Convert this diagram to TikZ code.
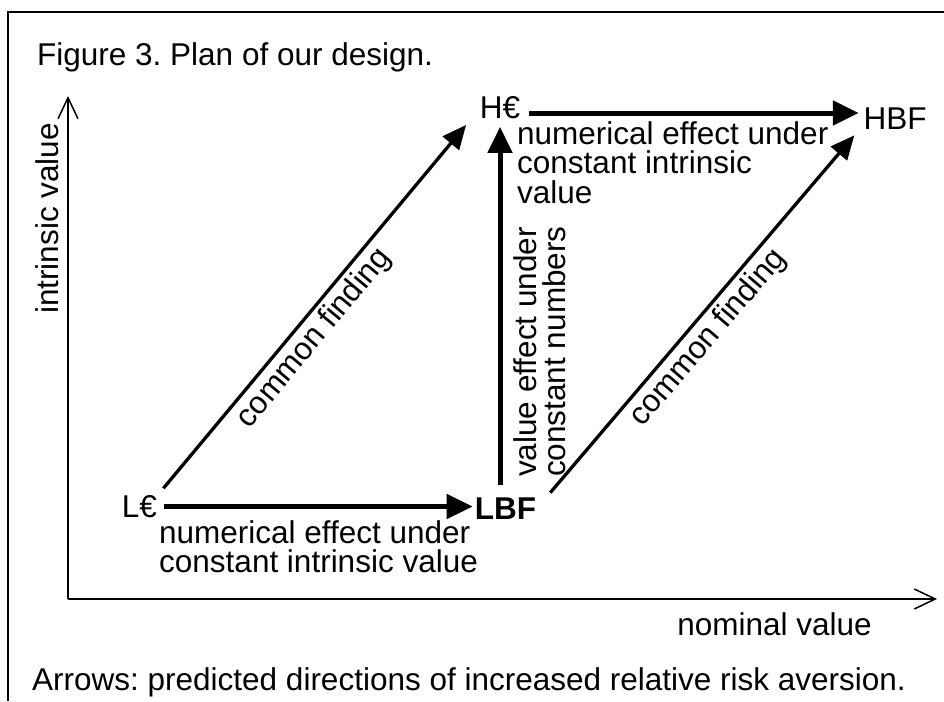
\documentclass[tikz,border=0pt]{standalone}
\usepackage{fontspec}
\setmainfont{Liberation Sans}
\usetikzlibrary{arrows.meta,positioning,calc}
\frenchspacing

\begin{document}
\begin{tikzpicture}[
    x=1pt, y=-1pt,
    font=\fontsize{31.5pt}{29.5pt}\selectfont,
    >=Triangle
  ]

  % Styles for corners, arrows and notes
  \tikzset{
    corner/.style={inner sep=3pt},
    flow/.style={-{Triangle[length=26pt,width=24pt]}, line width=5pt},
    link/.style={-{Triangle[length=24pt,width=21pt]}, line width=3.3pt},
    axis/.style={-{Straight Barb[length=21pt,width=20pt,line width=1.5pt]}, line width=2pt},
    note/.style={align=left, inner sep=0pt}
  }

  % Frame
  \useasboundingbox (0,0) rectangle (944,701);
  \draw[line width=1.5pt] (944,12) -- (8,12) -- (8,701);

  % Axes
  \coordinate (origin) at (68,599);
  \coordinate (ytip)   at (68,96);
  \coordinate (xtip)   at (937,599);
  \draw[axis] (origin) -- (ytip);
  \draw[axis] (origin) -- (xtip);

  % Four cells of the design
  \node (leur) [corner] at (139.5,506.5) {L€};
  \node (lbf)  [corner] at (505.5,509) {\bfseries LBF};
  \node (heur) [corner] at (500,107.5) {H€};
  \node (hbf)  [corner] at (895,119) {HBF};

  % Arrows between cells
  \draw[flow, shorten <=4pt, shorten >=-1pt] (leur.east) -- (leur.east -| lbf.west);
  \draw[flow, shorten <=6pt, shorten >=1.5pt] ([yshift=-5.5pt]heur.east) -- ([yshift=6pt]hbf.west);
  \draw[flow, shorten <=9.5pt, shorten >=5pt] (heur.south |- lbf.north) -- (heur.south);
  \draw[link, shorten <=5pt, shorten >=4pt] (leur.north east) -- ([xshift=-8pt]heur.south west)
    node[sloped, below, pos=0.45, inner sep=4pt] {common finding};
  \draw[link, shorten <=3pt, shorten >=3pt] ([xshift=9pt]lbf.north east) -- ([xshift=-4pt]hbf.south west)
    node[sloped, below, pos=0.47, inner sep=4pt] {common finding};

  % Notes on the effects
  \node (lownote)  [note, anchor=north west] at (159,520) {numerical effect under\\constant intrinsic value};
  \node (highnote) [note, anchor=north west] at (517,121) {numerical effect under\\constant intrinsic\\value};
  \node (vertnote) [note, anchor=north west, rotate=90] at (513,477) {value effect under\\constant numbers};

  % Titles and axis labels
  \node (title)  [anchor=base west, inner sep=0pt] at (37,65) {Figure 3. Plan of our design.};
  \node (ylabel) [anchor=base west, inner sep=0pt, rotate=90] at (58,314) {intrinsic value};
  \node (xlabel) [anchor=base east, inner sep=0pt] at (872,635) {nominal value};
  \node (caption) [anchor=base west, inner sep=0pt] at (32,690) {Arrows: predicted directions of increased relative risk aversion.};

\end{tikzpicture}
\end{document}
